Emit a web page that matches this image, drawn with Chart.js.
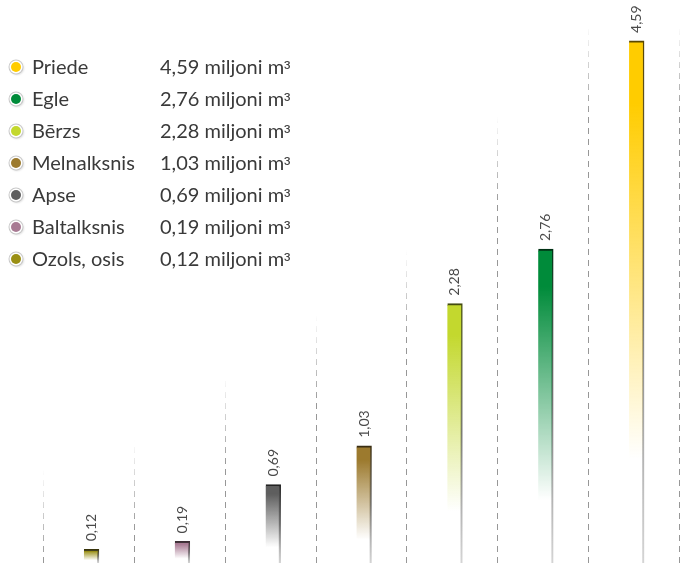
<!DOCTYPE html>
<html>
<head>
<meta charset="utf-8">
<script src="https://cdn.jsdelivr.net/npm/chart.js@4.4.1/dist/chart.umd.min.js"></script>
<style>
  html, body { margin: 0; padding: 0; background: #fff; }
  #wrap { position: relative; width: 689px; height: 564px; overflow: hidden; }
  #c { position: absolute; left: 0; top: 0; }
  #legend { position: absolute; left: 0; top: 50px; font-family: Lato, "DejaVu Sans Condensed", sans-serif; font-size: 20px; color: #3a3a3a; }
  .row { position: relative; height: 32px; line-height: 32px; white-space: nowrap; }
  .dot { position: absolute; left: 11px; top: 12px; width: 10px; height: 10px; border-radius: 50%;
         box-shadow: 0 0 0 1.5px #fff, 0 0 0 2.5px #c8c8c8, 1px 1px 2px 2px #ddd; }
  .name { position: absolute; left: 32px; top: 0; }
  .val { position: absolute; left: 160px; top: 0; }
  .sup { font-family: "Liberation Sans", sans-serif; font-size: 19px; }
</style>
</head>
<body>
<div id="wrap">
  <canvas id="c" width="689" height="564"></canvas>
  <div id="legend"></div>
</div>
<script>
// Legend order (largest first)
const species = ['Priede', 'Egle', 'Bērzs', 'Melnalksnis', 'Apse', 'Baltalksnis', 'Ozols, osis'];
const volumes = [4.59, 2.76, 2.28, 1.03, 0.69, 0.19, 0.12];
const colors  = ['#FFCC00', '#008B3A', '#C3D82E', '#9C7A2E', '#5E5E5E', '#A87A93', '#9A8F14'];
const unitLabel = 'miljoni m';
const unitSup = '³';
// Reach (in data units) of each decorative dashed guide line, left to right
const guideReach = [0.82, 1.08, 1.65, 2.18, 2.75, 3.93, 4.73, 4.73];

// Chart order (smallest first)
const chartLabels = species.slice().reverse();
const chartValues = volumes.slice().reverse();
const chartColors = colors.slice().reverse();

const fmt = v => v.toFixed(2).replace('.', ',');

// HTML legend
const leg = document.getElementById('legend');
species.forEach((s, i) => {
  const r = document.createElement('div');
  r.className = 'row';
  r.innerHTML = '<span class="dot" style="background:' + colors[i] + '"></span>' +
    '<span class="name">' + s + '</span>' +
    '<span class="val">' + fmt(volumes[i]) + ' ' + unitLabel + '<span class="sup">' + unitSup + '</span></span>';
  leg.appendChild(r);
});

function hexToRgb(h) {
  const n = parseInt(h.slice(1), 16);
  return [(n >> 16) & 255, (n >> 8) & 255, n & 255];
}
function rgba(h, a) { const [r, g, b] = hexToRgb(h); return `rgba(${r},${g},${b},${a})`; }
function darker(h, f) { const [r, g, b] = hexToRgb(h); return `rgb(${Math.round(r*f)},${Math.round(g*f)},${Math.round(b*f)})`; }

function barFill(ctx) {
  const chart = ctx.chart;
  const c = chartColors[ctx.dataIndex];
  if (!chart.chartArea || !chart.scales.y) return c;
  const y = chart.scales.y;
  const top = y.getPixelForValue(chartValues[ctx.dataIndex]);
  const base = y.getPixelForValue(0);
  const g = chart.ctx.createLinearGradient(0, top, 0, base);
  g.addColorStop(0, rgba(c, 1));
  g.addColorStop(0.12, rgba(c, 1));
  g.addColorStop(0.8, rgba(c, 0));
  g.addColorStop(1, rgba(c, 0));
  return g;
}
function barBorder(ctx) {
  const chart = ctx.chart;
  const c = chartColors[ctx.dataIndex];
  if (!chart.chartArea || !chart.scales.y) return darker(c, 0.4);
  const y = chart.scales.y;
  const top = y.getPixelForValue(chartValues[ctx.dataIndex]);
  const base = y.getPixelForValue(0);
  const g = chart.ctx.createLinearGradient(0, top, 0, base);
  g.addColorStop(0, darker(c, 0.35));
  g.addColorStop(0.5, 'rgba(80,80,80,0.8)');
  g.addColorStop(1, 'rgba(170,170,170,0.5)');
  return g;
}

const guidePlugin = {
  id: 'guides',
  beforeDatasetsDraw(chart) {
    const x = chart.scales.x, y = chart.scales.y, ctx = chart.ctx;
    const n = chartLabels.length;
    const step = (x.right - x.left) / n;
    const base = y.getPixelForValue(0);
    ctx.save();
    ctx.lineWidth = 1;
    ctx.setLineDash([6, 5]);
    for (let i = 0; i <= n; i++) {
      const px = Math.round(x.left + i * step - 3) + 0.5;
      const top = y.getPixelForValue(guideReach[i]);
      const g = ctx.createLinearGradient(0, top, 0, top + 90);
      g.addColorStop(0, 'rgba(140,140,140,0)');
      g.addColorStop(1, 'rgba(140,140,140,0.9)');
      ctx.strokeStyle = g;
      ctx.beginPath();
      ctx.moveTo(px, base);
      ctx.lineTo(px, top);
      ctx.stroke();
    }
    ctx.restore();
  }
};

const valueLabelPlugin = {
  id: 'valueLabels',
  afterDatasetsDraw(chart) {
    const ctx = chart.ctx;
    const meta = chart.getDatasetMeta(0);
    ctx.save();
    ctx.fillStyle = '#4a4a4a';
    ctx.font = '14px Lato, sans-serif';
    ctx.textAlign = 'left';
    ctx.textBaseline = 'middle';
    meta.data.forEach((bar, i) => {
      ctx.save();
      ctx.translate(bar.x, bar.y - 8);
      ctx.rotate(-Math.PI / 2);
      ctx.fillText(fmt(chartValues[i]), 0, 0);
      ctx.restore();
    });
    ctx.restore();
  }
};

new Chart(document.getElementById('c'), {
  type: 'bar',
  data: {
    labels: chartLabels,
    datasets: [{
      data: chartValues,
      backgroundColor: barFill,
      borderColor: barBorder,
      borderWidth: { top: 2, right: 1.5, left: 0, bottom: 0 },
      borderSkipped: false,
      barThickness: 15
    }]
  },
  options: {
    responsive: false,
    animation: false,
    events: [],
    layout: { padding: { left: 46, right: 7, top: 0, bottom: 1 } },
    plugins: { legend: { display: false }, tooltip: { enabled: false } },
    scales: {
      x: { display: false, offset: true, grid: { display: false } },
      y: { display: false, min: 0, max: 4.95, grid: { display: false } }
    }
  },
  plugins: [guidePlugin, valueLabelPlugin]
});
</script>
</body>
</html>
